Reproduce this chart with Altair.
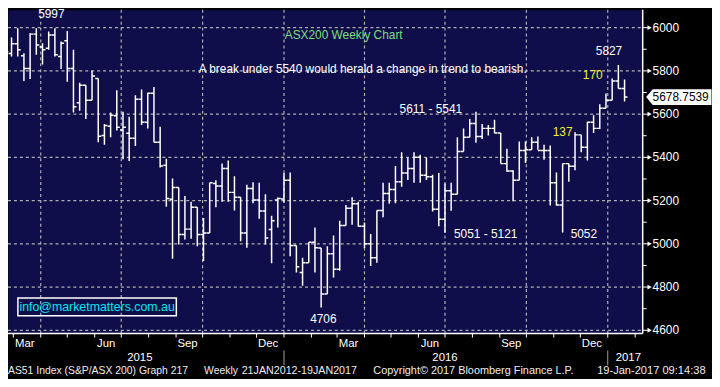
import altair as alt
import pandas as pd

# ---------------- data ----------------
last_bar = "2017-01-20"
opens = [5809, 5885, 5880, 5925, 5870, 5811, 5970, 5910, 5905, 5966,
         5867, 5939, 5811, 5653, 5733, 5664, 5765, 5501, 5544, 5592,
         5527, 5511, 5488, 5669, 5562, 5696, 5470, 5363, 5206, 5261,
         5043, 5068, 5169, 5043, 5050, 5279, 5267, 5348, 5238, 5215,
         5050, 5256, 5203, 5152, 5066, 5203, 5207, 5294, 4992, 4867,
         4913, 5007, 4981, 4768, 4954, 4882, 5085, 5165, 5185, 5081,
         5000, 4936, 5154, 5233, 5251, 5287, 5328, 5348, 5401, 5317,
         5310, 5160, 5114, 5245, 5229, 5427, 5493, 5557, 5496, 5534,
         5534, 5513, 5371, 5337, 5294, 5432, 5435, 5470, 5432, 5432,
         5282, 5180, 5371, 5359, 5504, 5447, 5562, 5534, 5627, 5664,
         5753, 5719]
highs = [5890, 5943, 5954, 5997, 5882, 5974, 5997, 5928, 5982, 5997,
         5936, 5985, 5898, 5745, 5733, 5801, 5765, 5554, 5608, 5710,
         5611, 5588, 5687, 5714, 5699, 5725, 5542, 5394, 5302, 5261,
         5221, 5195, 5169, 5119, 5282, 5294, 5371, 5386, 5313, 5215,
         5273, 5285, 5282, 5229, 5130, 5214, 5328, 5330, 4992, 4936,
         5007, 5076, 4981, 4989, 5038, 5107, 5180, 5215, 5195, 5099,
         5046, 5154, 5282, 5282, 5360, 5424, 5398, 5424, 5412, 5398,
         5320, 5328, 5279, 5282, 5493, 5534, 5577, 5611, 5554, 5550,
         5574, 5513, 5440, 5340, 5473, 5473, 5493, 5496, 5458, 5455,
         5330, 5371, 5371, 5516, 5504, 5565, 5595, 5646, 5695, 5765,
         5827, 5760]
lows = [5740, 5840, 5867, 5867, 5753, 5763, 5875, 5829, 5898, 5867,
        5809, 5750, 5608, 5615, 5577, 5664, 5470, 5458, 5493, 5524,
        5391, 5383, 5452, 5550, 5534, 5470, 5353, 5172, 4931, 4997,
        5020, 5023, 4989, 4920, 5050, 5169, 5195, 5195, 5154, 5012,
        4982, 5188, 5116, 4997, 4910, 5076, 5191, 4943, 4867, 4806,
        4913, 4867, 4706, 4768, 4844, 4875, 5085, 5088, 5080, 4981,
        4898, 4913, 5123, 5185, 5188, 5264, 5295, 5282, 5282, 5295,
        5150, 5081, 5051, 5153, 5229, 5427, 5493, 5467, 5485, 5501,
        5511, 5371, 5333, 5197, 5294, 5374, 5435, 5435, 5389, 5177,
        5177, 5052, 5287, 5340, 5424, 5386, 5513, 5531, 5627, 5664,
        5719, 5658]
last_price = 5678.7539
closes = [5878, 5890, 5925, 5898, 5811, 5970, 5920, 5898, 5966, 5875,
          5928, 5811, 5634, 5733, 5664, 5776, 5498, 5547, 5595, 5539,
          5539, 5488, 5669, 5562, 5696, 5470, 5360, 5210, 5261, 5043,
          5068, 5169, 5043, 5050, 5282, 5267, 5348, 5238, 5215, 5050,
          5256, 5203, 5152, 5027, 5107, 5210, 5294, 4992, 4894, 4913,
          5007, 4982, 4768, 4954, 4882, 5085, 5165, 5185, 5081, 5000,
          4936, 5154, 5233, 5251, 5287, 5328, 5348, 5401, 5317, 5310,
          5160, 5114, 5245, 5229, 5427, 5493, 5557, 5496, 5534, 5534,
          5513, 5371, 5337, 5294, 5432, 5435, 5470, 5432, 5432, 5282,
          5180, 5371, 5359, 5504, 5447, 5562, 5534, 5627, 5664, 5753,
          5719, last_price]

y_ticks = [4600, 4800, 5000, 5200, 5400, 5600, 5800, 6000]
y_minor = [4700, 4900, 5100, 5300, 5500, 5700, 5900]
quarter_starts = ["2015-04-01", "2015-07-01", "2015-10-01", "2016-01-01",
                  "2016-04-01", "2016-07-01", "2016-10-01", "2017-01-01"]
year_starts = ["2016-01-01", "2017-01-01"]
year_labels = ["2015", "2016", "2017"]
labelled_months = ["Mar", "Jun", "Sep", "Dec"]

ann_text = ["5997", "ASX200 Weekly Chart",
            "A break under 5540 would herald a change in trend to bearish.",
            "5611 - 5541", "5827", "170", "137", "5051 - 5121", "5052", "4706"]
ann_date = ["2015-04-13", "2016-03-08T12:00:00Z", "2016-03-30", "2016-06-15",
            "2017-01-02T10:00:00Z", "2016-12-15", "2016-11-11", "2016-08-16",
            "2016-12-05", "2016-02-14T12:00:00Z"]
ann_value = [6064, 5966, 5810, 5624, 5890, 5782, 5519, 5047, 5044, 4651]
ann_color = ["#ffffff", "#7ede7e", "#ffffff", "#ffffff", "#ffffff",
             "#eef032", "#eef032", "#ffffff", "#ffffff", "#ffffff"]

footer_text = ["AS51 Index (S&P/ASX 200) Graph 217", "Weekly",
               "21JAN2012-19JAN2017", "Copyright\u00a9 2017 Bloomberg Finance L.P.",
               "19-Jan-2017 09:14:38"]
email = "info@marketmatters.com.au"

# ---------------- layout / style ----------------
FONT = "Liberation Sans"
NAVY = "#100e4a"
GRID_DASH = "#b0b0b0"
W, H = 641, 327

t_last = pd.Timestamp(last_bar)
dom_start = t_last - pd.Timedelta(days=697)
dom_end = t_last + pd.Timedelta(days=20.5)


def ms(t):
    return int(pd.Timestamp(t).value // 10**6)


def iso(t):
    return pd.Timestamp(t).strftime("%Y-%m-%dT%H:%M:%SZ")


bar_dates = pd.date_range(end=last_bar, periods=len(opens), freq="7D").strftime("%Y-%m-%d").tolist()
bars = pd.DataFrame({"date": bar_dates, "open": opens, "high": highs,
                     "low": lows, "close": closes})

month_starts = pd.date_range("2015-03-01", "2017-02-01", freq="MS")
month_tick_df = pd.DataFrame({"date": month_starts.strftime("%Y-%m-%d")})
lab_months = [m for m in month_starts if m.strftime("%b") in labelled_months]
month_lab_df = pd.DataFrame({
    "date": [iso(m + pd.Timedelta(days=13)) for m in lab_months],
    "label": [m.strftime("%b") for m in lab_months]})

x_scale = alt.Scale(type="utc", domain=[ms(dom_start), ms(dom_end)], nice=False)
y_scale = alt.Scale(domain=[4584.7, 6082.4], nice=False, zero=False)


def Xd(f="date:T"):
    return alt.X(f, scale=x_scale, axis=None, title=None)


def Yv(f):
    return alt.Y(f, scale=y_scale, axis=None, title=None)


# dashed grid (own column names)
ytick_df = pd.DataFrame({"v": y_ticks, "label": [str(v) for v in y_ticks]})
hgrid = alt.Chart(pd.DataFrame({"gv": y_ticks})).mark_rule(
    color=GRID_DASH, strokeDash=[3, 3], strokeWidth=1.2).encode(
    y=Yv("gv:Q"), x=alt.value(0), x2=alt.value(W))
vgrid = alt.Chart(pd.DataFrame({"gdate": quarter_starts})).mark_rule(
    color=GRID_DASH, strokeDash=[3, 3], strokeWidth=1.2).encode(
    x=Xd("gdate:T"), y=alt.value(0), y2=alt.value(H))

# OHLC bars
hl = alt.Chart(bars).mark_rule(color="white", strokeWidth=1.5, clip=True).encode(
    x=Xd(), y=Yv("low:Q"), y2="high:Q")
op = alt.Chart(bars).mark_rule(color="white", strokeWidth=1.5, clip=True,
                               xOffset=-3, x2Offset=0).encode(
    x=Xd(), x2="date:T", y=Yv("open:Q"))
cl = alt.Chart(bars).mark_rule(color="white", strokeWidth=1.5, clip=True,
                               xOffset=0, x2Offset=3).encode(
    x=Xd(), x2="date:T", y=Yv("close:Q"))

# right price axis
ydom = alt.Chart(pd.DataFrame({"k": [0]})).mark_rule(color="white", strokeWidth=1.5).encode(
    x=alt.value(W), y=alt.value(0), y2=alt.value(H))
ymaj = alt.Chart(ytick_df).mark_rule(color="white", strokeWidth=1).encode(
    x=alt.value(W), x2=alt.value(W + 6), y=Yv("v:Q"))
tri = alt.Chart(ytick_df).mark_point(
    shape="triangle-right", filled=True, size=24, color="white",
    opacity=1, strokeWidth=0).encode(x=alt.value(W + 7), y=Yv("v:Q"))
ymin = alt.Chart(pd.DataFrame({"v": y_minor})).mark_rule(
    color="white", strokeWidth=1).encode(
    x=alt.value(W), x2=alt.value(W + 4), y=Yv("v:Q"))
ylab = alt.Chart(ytick_df).mark_text(
    color="white", font=FONT, fontSize=12, align="left", baseline="middle").encode(
    x=alt.value(W + 10), y=Yv("v:Q"), text="label:N")

# bottom time axis
xdom = alt.Chart(pd.DataFrame({"k": [0]})).mark_rule(color="white", strokeWidth=1.5).encode(
    x=alt.value(0), x2=alt.value(W), y=alt.value(H))
xtick = alt.Chart(month_tick_df).mark_rule(color="white", strokeWidth=1).encode(
    x=Xd(), y=alt.value(H), y2=alt.value(H + 4))
mlab = alt.Chart(month_lab_df).mark_text(
    color="white", font=FONT, fontSize=11.5, baseline="top").encode(
    x=Xd(), y=alt.value(H + 5), text="label:N")
ybreak = alt.Chart(pd.DataFrame({"date": year_starts})).mark_rule(
    color="#a0a0a0", strokeWidth=1).encode(
    x=Xd(), y=alt.value(H + 17), y2=alt.value(H + 32))
year_anchor = ["2015-07-22", "2016-07-01", "2017-01-01"]
year_align = ["center", "center", "left"]
year_dx = [0, 0, 8]
yrlabs = [
    alt.Chart(pd.DataFrame({"date": [d], "label": [lab]})).mark_text(
        color="white", font=FONT, fontSize=11.5, baseline="middle",
        align=al, dx=dx).encode(x=Xd(), y=alt.value(H + 24.5), text="label:N")
    for d, lab, al, dx in zip(year_anchor, year_labels, year_align, year_dx)
]

# annotations
ann = alt.Chart(pd.DataFrame({"date": ann_date, "v": ann_value, "label": ann_text,
                              "c": ann_color})).mark_text(
    font=FONT, fontSize=12, baseline="middle", align="center").encode(
    x=Xd(), y=Yv("v:Q"), text="label:N", color=alt.Color("c:N", scale=None))

one = pd.DataFrame({"k": [0]})
box = alt.Chart(one).mark_rect(fillOpacity=0, stroke="white", strokeWidth=1.5).encode(
    x=alt.value(10), x2=alt.value(170), y=alt.value(291), y2=alt.value(309))
box_txt = alt.Chart(one).mark_text(
    color="#00e4f0", font=FONT, fontSize=12.5, baseline="middle").encode(
    x=alt.value(90), y=alt.value(300.5), text=alt.value(email))

last_df = pd.DataFrame({"v": [last_price], "label": [f"{last_price:.4f}"]})
tag = alt.Chart(last_df).mark_point(
    shape="M-1,0L-0.8,-0.242L1,-0.242L1,0.242L-0.8,0.242Z",
    size=66 * 66, filled=True, color="white", opacity=1, strokeWidth=0).encode(
    x=alt.value(677.5), y=Yv("v:Q"))
tag_txt = alt.Chart(last_df).mark_text(
    color="black", font=FONT, fontSize=12, align="left", baseline="middle").encode(
    x=alt.value(651), y=Yv("v:Q"), text="label:N")

footer_x = [0, 198, 236, 369, 595]
footer_size = [10.5, 10.5, 10.8, 11, 11.2]
footers = [
    alt.Chart(one).mark_text(color="#ececec", font=FONT, fontSize=fs,
                             align="left", baseline="middle").encode(
        x=alt.value(fx), y=alt.value(H + 37.7), text=alt.value(ft))
    for fx, fs, ft in zip(footer_x, footer_size, footer_text)
]

chart = alt.layer(
    hgrid, vgrid, hl, op, cl,
    ydom, ymaj, tri, ymin, ylab,
    xdom, xtick, mlab, ybreak, *yrlabs,
    ann, box, box_txt, tag, tag_txt, *footers
).properties(
    width=W, height=H,
    padding={"left": 0, "top": 0, "right": 70, "bottom": 44},
    autosize=alt.AutoSizeParams(type="none"),
    background="#000000",
).configure_view(fill=NAVY, stroke="transparent")

chart.save("out.html", embed_options={"renderer": "svg", "actions": False})
